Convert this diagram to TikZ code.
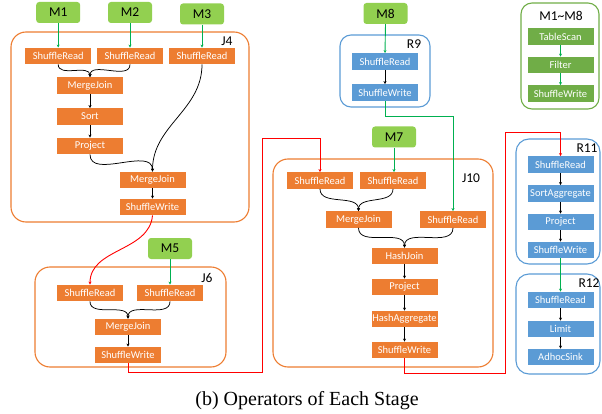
\documentclass[tikz,border=0pt]{standalone}
\usepackage{fontspec}
\setmainfont{Carlito}
\newfontfamily\capfont{Liberation Serif}
\usetikzlibrary{arrows.meta}
\definecolor{opor}{HTML}{ED7D31}
\definecolor{opbl}{HTML}{5B9BD5}
\definecolor{mgreen}{HTML}{92D050}
\definecolor{lgreen}{HTML}{70AD47}
\definecolor{cgreen}{HTML}{00B050}
\definecolor{cred}{HTML}{FF0000}
\begin{document}
\begin{tikzpicture}[x=1pt,y=1pt,
 opbase/.style={rectangle,minimum width=66pt,minimum height=16.5pt,inner sep=0pt,text=white,font=\fontsize{10.5}{12}\selectfont},
 opo/.style={opbase,fill=opor},
 opb/.style={opbase,fill=opbl},
 opg/.style={opbase,fill=lgreen},
 mbox/.style={rectangle,rounded corners=3pt,fill=mgreen,minimum width=44pt,minimum height=21pt,inner sep=0pt,font=\fontsize{13.5}{15}\selectfont},
 frm/.style={rectangle,rounded corners=15pt,line width=1.1pt,inner sep=0pt},
 lbl/.style={font=\fontsize{13.5}{15}\selectfont,inner sep=0pt},
 tip/.style={-{Stealth[length=3pt,width=3pt]}},
 bar/.style={tip,line width=0.75pt,black},
 gar/.style={tip,line width=0.9pt,cgreen},
 rar/.style={tip,line width=0.9pt,cred},
]
\useasboundingbox (0,0) rectangle (602,-414);

% frames
\node[frm,draw=opor,minimum width=238pt,minimum height=190pt] (J4f) at (130,-127) {};
\node[frm,draw=opor,minimum width=191pt,minimum height=100pt] (J6f) at (130.5,-317) {};
\node[frm,draw=opor,minimum width=220pt,minimum height=208pt] (J10f) at (383,-263) {};
\node[frm,draw=opbl,rounded corners=11pt,minimum width=90pt,minimum height=72pt] (R9f) at (385,-71) {};
\node[frm,draw=lgreen,rounded corners=11pt,minimum width=78pt,minimum height=106pt] (Lf) at (560,-56) {};
\node[frm,draw=opbl,rounded corners=13pt,minimum width=84pt,minimum height=125pt] (R11f) at (558,-201.5) {};
\node[frm,draw=opbl,rounded corners=13pt,minimum width=84pt,minimum height=100pt] (R12f) at (558,-324) {};

% frame labels
\node[lbl] (J4l) at (227,-41) {J4};
\node[lbl] (J6l) at (207,-278) {J6};
\node[lbl] (J10l) at (471,-178) {J10};
\node[lbl] (R9l) at (414,-44) {R9};
\node[lbl] (Ll) at (561,-16) {M1\textasciitilde M8};
\node[lbl] (R11l) at (587,-148) {R11};
\node[lbl] (R12l) at (589,-283) {R12};

% M boxes
\node[mbox] (M1) at (58.2,-12.5) {M1};
\node[mbox] (M2) at (130,-12.5) {M2};
\node[mbox] (M3) at (202,-14) {M3};
\node[mbox] (M5) at (170,-248.5) {M5};
\node[mbox] (M7) at (394,-137) {M7};
\node[mbox] (M8) at (385.5,-13.5) {M8};

% J4
\node[opo] (a1) at (58.2,-56) {ShuffleRead};
\node[opo] (a2) at (130,-56) {ShuffleRead};
\node[opo] (a3) at (202,-56) {ShuffleRead};
\node[opo] (a4) at (90,-85.5) {MergeJoin};
\node[opo] (a5) at (90,-116.5) {Sort};
\node[opo] (a6) at (90,-146) {Project};
\node[opo] (a7) at (152.5,-180) {MergeJoin};
\node[opo] (a8) at (152.5,-207) {ShuffleWrite};

% J6
\node[opo] (b1) at (90,-293) {ShuffleRead};
\node[opo] (b2) at (170,-293) {ShuffleRead};
\node[opo] (b3) at (128,-327) {MergeJoin};
\node[opo] (b4) at (128,-355) {ShuffleWrite};

% R9
\node[opb] (r1) at (385,-61.5) {ShuffleRead};
\node[opb] (r2) at (385,-92.5) {ShuffleWrite};

% J10
\node[opo] (c1) at (320,-180.5) {ShuffleRead};
\node[opo] (c2) at (393,-180.5) {ShuffleRead};
\node[opo] (c3) at (358.5,-219.5) {MergeJoin};
\node[opo] (c4) at (453,-219.5) {ShuffleRead};
\node[opo] (c5) at (404.5,-256) {HashJoin};
\node[opo] (c6) at (404.5,-287) {Project};
\node[opo] (c7) at (404.5,-319) {HashAggregate};
\node[opo] (c8) at (404.5,-350) {ShuffleWrite};

% legend
\node[opg] (g1) at (560.5,-36.5) {TableScan};
\node[opg] (g2) at (560.5,-65) {Filter};
\node[opg] (g3) at (560.5,-93.5) {ShuffleWrite};

% R11
\node[opb] (d1) at (560.5,-164.5) {ShuffleRead};
\node[opb] (d2) at (560.5,-193.5) {SortAggregate};
\node[opb] (d3) at (560.5,-222) {Project};
\node[opb] (d4) at (560.5,-250) {ShuffleWrite};

% R12
\node[opb] (e1) at (560.5,-300) {ShuffleRead};
\node[opb] (e2) at (560.5,-329) {Limit};
\node[opb] (e3) at (560.5,-357) {AdhocSink};

% green connectors
\draw[gar] (M1.south) -- (a1.north);
\draw[gar] (M2.south) -- (a2.north);
\draw[gar] (M3.south) -- (a3.north);
\draw[gar] (M5.south) -- (b2.north);
\draw[gar] (M8.south) -- (r1.north);
\draw[gar] (M7.south) -- (M7.south |- c2.north);
\draw[gar] (r2.south) -- ++(0,-16) -| (c4.north);
\draw[gar] (g1) -- (g2);
\draw[gar] (g2) -- (g3);
\draw[gar] (d4) -- (e1);

% black connectors
\draw[bar] (a1.south) to[out=-90,in=90] (a4.north);
\draw[bar] (a2.south) to[out=-90,in=90] (a4.north);
\draw[bar] (a4) -- (a5);
\draw[bar] (a5) -- (a6);
\draw[bar] (a6.south) to[out=-90,in=90] (a7.north);
\draw[bar] (a3.south) to[out=-90,in=90] (a7.north);
\draw[bar] (a7) -- (a8);
\draw[bar] (b1.south) to[out=-90,in=90] (b3.north);
\draw[bar] (b2.south) to[out=-90,in=90] (b3.north);
\draw[bar] (b3) -- (b4);
\draw[bar] (r1) -- (r2);
\draw[bar] (c1.south) to[out=-90,in=90] (c3.north);
\draw[bar] (c2.south) to[out=-90,in=90] (c3.north);
\draw[bar] (c3.south) to[out=-90,in=90] (c5.north);
\draw[bar] (c4.south) to[out=-90,in=90] (c5.north);
\draw[bar] (c5) -- (c6);
\draw[bar] (c6) -- (c7);
\draw[bar] (c7) -- (c8);
\draw[bar] (d1) -- (d2);
\draw[bar] (d2) -- (d3);
\draw[bar] (d3) -- (d4);
\draw[bar] (e1) -- (e2);
\draw[bar] (e2) -- (e3);

% red connectors
\draw[rar] (a8.south) to[out=-95,in=90] (b1.north);
\draw[rar] (b4.south) |- (262,-372) -- (262,-138) -| (c1.north);
\draw[rar] (c8.south) |- (505,-373) -- (505,-132) -| (d1.north);

% caption
\node[font=\capfont\fontsize{20}{23}\selectfont,inner sep=0pt] (cap) at (307,-401) {(b) Operators of Each Stage};
\end{tikzpicture}
\end{document}
